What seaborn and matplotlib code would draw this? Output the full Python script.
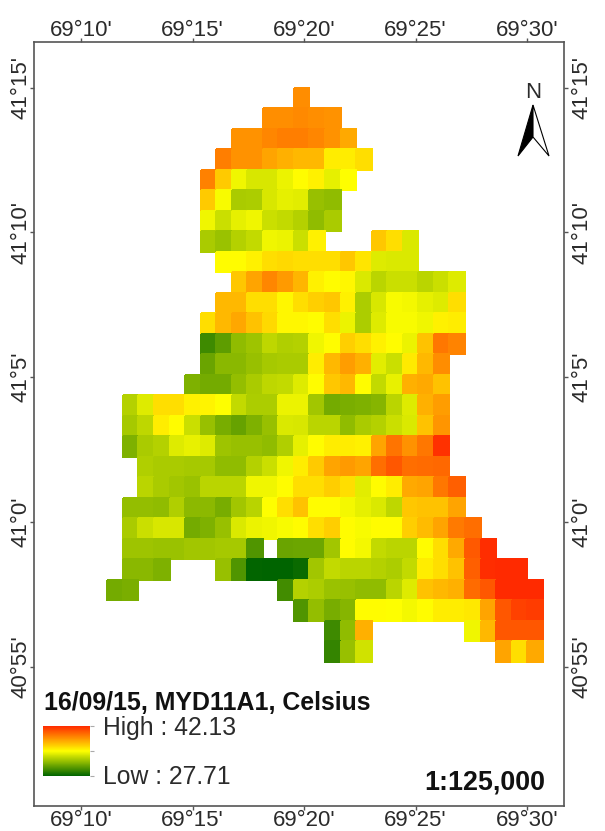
# Land surface temperature map, MYD11A1, 16/09/15

import numpy as np
import pandas as pd
import matplotlib
matplotlib.use('Agg')
import matplotlib.pyplot as plt
from matplotlib.colors import LinearSegmentedColormap
from matplotlib.patches import Polygon
import seaborn as sns

N_ROWS = 28
N_COLS = 28

# first column of each raster row
row_starts = [12, 10, 8, 7, 6, 6, 6, 6, 7, 8, 7, 6, 6, 6, 5, 1, 1, 1, 2, 2, 1, 1, 1, 1, 0, 12, 14, 14]

# temperature per row, None = no data
row_values = [
    [38.8],
    [38.7, 38.7, 38.9, 38.7, 38.6],
    [38.6, 38.6, 39.0, 39.3, 39.3, 39.0, 38.6, 37.8],
    [39.3, 38.6, 38.6, 38.0, 37.6, 37.3, 37.3, 35.5, 35.5, 36.0],
    [39.2, 36.7, 34.5, 33.8, 33.8, 34.4, 35.0, 35.4, 34.2, 34.9],
    [36.7, 34.7, 32.5, 32.6, 33.8, 34.2, 34.1, 32.0, 31.8],
    [34.5, 33.4, 34.2, 34.5, 33.4, 33.2, 32.8, 31.8, 32.5],
    [32.5, 32.1, 32.8, 33.2, 34.5, 34.4, 33.4, 35.4, None, None, None, 36.8, 36.0, 33.9],
    [35.0, 35.0, 35.4, 36.0, 36.2, 36.0, 36.0, 36.0, 36.8, 35.8, 34.0, 33.9, 33.9],
    [36.8, 38.0, 39.0, 38.3, 37.4, 35.4, 35.0, 35.2, 33.9, 33.0, 33.4, 33.4, 33.0, 33.4, 34.0],
    [37.3, 37.3, 36.0, 36.0, 35.2, 36.0, 36.5, 36.8, 35.4, 32.6, 33.8, 34.7, 34.6, 34.2, 34.0, 36.0],
    [36.0, 37.3, 37.9, 37.0, 36.2, 35.2, 35.2, 35.0, 36.0, 34.4, 32.6, 34.0, 34.7, 34.7, 34.5, 35.4, 35.5],
    [29.5, 30.4, 31.8, 32.2, 33.1, 32.7, 32.8, 34.5, 35.0, 36.5, 36.0, 35.4, 35.0, 34.4, 37.0, 39.5, 39.1],
    [30.7, 31.6, 31.6, 32.0, 32.4, 32.5, 32.5, 35.5, 37.3, 38.2, 37.6, 34.1, 33.4, 35.6, 37.3, 38.8],
    [31.3, 31.0, 31.0, 31.9, 32.5, 33.1, 33.2, 34.0, 35.0, 36.8, 37.3, 35.0, 33.2, 34.3, 37.6, 37.8, 37.0],
    [32.8, 34.0, 36.0, 36.0, 35.4, 35.3, 34.9, 33.2, 32.6, 32.6, 34.4, 34.4, 32.3, 31.0, 31.2, 31.3, 31.5, 33.0, 34.0, 37.6, 38.2],
    [32.4, 33.1, 35.5, 35.0, 33.4, 32.0, 31.1, 30.6, 31.3, 32.0, 33.9, 33.8, 33.0, 33.0, 31.8, 32.5, 32.8, 33.4, 33.9, 37.0, 38.5],
    [31.3, 32.5, 32.8, 34.0, 34.3, 34.0, 32.2, 32.0, 32.0, 31.8, 32.7, 34.2, 35.0, 35.5, 35.5, 35.4, 38.0, 39.6, 38.6, 39.5, 41.9],
    [32.7, 32.5, 32.5, 32.4, 32.4, 31.8, 31.8, 32.8, 33.4, 34.5, 35.5, 36.7, 38.0, 38.3, 38.0, 39.8, 40.6, 39.8, 39.9, 40.0],
    [33.0, 32.5, 32.3, 32.1, 33.0, 33.0, 33.0, 34.5, 34.5, 35.0, 36.0, 36.0, 36.6, 36.0, 34.1, 35.0, 35.5, 37.8, 38.0, 39.5, 40.3],
    [31.9, 31.9, 31.8, 32.7, 31.7, 31.7, 31.1, 32.3, 32.9, 34.9, 36.0, 37.0, 35.0, 35.0, 34.6, 34.2, 33.9, 33.1, 36.8, 37.0, 37.0, 38.0],
    [32.5, 33.4, 33.8, 33.8, 31.0, 31.3, 32.0, 33.9, 34.4, 34.5, 34.7, 35.0, 36.0, 36.6, 35.0, 34.7, 35.0, 35.0, 36.6, 37.2, 38.0, 39.4, 39.8],
    [32.2, 32.2, 32.1, 32.1, 32.3, 32.3, 32.4, 32.4, 30.0, None, 30.7, 30.8, 30.8, 32.3, 35.0, 34.6, 33.2, 33.0, 33.0, 35.0, 36.0, 37.8, 40.5, 42.0],
    [31.6, 31.6, 31.3, None, None, None, 32.0, 30.0, 27.8, 27.7, 27.7, 28.0, 32.3, 33.2, 33.0, 33.0, 32.8, 32.6, 33.2, 35.5, 36.0, 37.0, 40.3, 42.0, 42.1, 42.1],
    [31.0, 31.2, None, None, None, None, None, None, None, None, None, 29.6, 32.8, 32.6, 32.1, 32.0, 31.8, 31.8, 33.0, 34.0, 37.0, 37.3, 37.6, 39.9, 40.6, 42.1, 42.1, 42.1],
    [30.0, 31.9, 31.1, 31.5, 35.0, 35.0, 34.9, 34.6, 35.0, 35.5, 35.5, 35.7, 38.0, 40.6, 41.3, 41.5],
    [29.5, 31.8, 37.6, None, None, None, None, None, None, 34.5, 37.3, 40.6, 40.6, 40.6],
    [29.2, 32.0, 33.6, None, None, None, None, None, None, None, None, 38.0, 36.0, 37.8],
]

lon_ticks = [10, 15, 20, 25, 30]
lon_labels = ["69°10'", "69°15'", "69°20'", "69°25'", "69°30'"]
lat_ticks = [15, 10, 5, 0, -5]
lat_labels = ["41°15'", "41°10'", "41°5'", "41°0'", "40°55'"]

T_LOW = 27.71
T_HIGH = 42.13
T_MID = (T_LOW + T_HIGH) / 2

INK = '#2b2b2b'
FRAME = '#555555'

sns.set_theme(style='white')
plt.rcParams['font.family'] = ['Liberation Sans', 'DejaVu Sans']

grid = np.full((N_ROWS, N_COLS), np.nan)
for r, (start, vals) in enumerate(zip(row_starts, row_values)):
    for k, v in enumerate(vals):
        if v is not None:
            grid[r, start + k] = v
grid_df = pd.DataFrame(grid)

cmap = LinearSegmentedColormap.from_list('lst', ['#006400', '#ffff00', '#ff2a00'])

W, H = 605, 831
fig = plt.figure(figsize=(W / 100, H / 100), dpi=100)
ax = fig.add_axes([34 / W, 1 - 806 / H, 530 / W, 764 / H])
cax = fig.add_axes([43 / W, 1 - 776 / H, 47 / W, 50 / H])

sns.heatmap(grid_df, ax=ax, cmap=cmap, vmin=T_LOW, vmax=T_HIGH, center=T_MID,
            cbar=True, cbar_ax=cax, xticklabels=False, yticklabels=False,
            linewidths=0, rasterized=True)
ax.collections[0].set_edgecolor('face')
ax.collections[0].set_linewidth(0.2)

# raster position on the frame, in cell units
CELL_W, CELL_H = 15.55, 20.5
ax.set_xlim((34 - 107.3) / CELL_W, (564 - 107.3) / CELL_W)
ax.set_ylim((806 - 87.5) / CELL_H, (42 - 87.5) / CELL_H)

# one cell is about 0.7 minutes, first column starts at 69°11.18', first row at 41°15'
x_pos = [(m - 11.18) / 0.697 for m in lon_ticks]
y_pos = [(15 - m) / 0.708 for m in lat_ticks]

# top and right get their own axis, the label gaps differ from bottom and left
top = ax.secondary_xaxis('top')
right = ax.secondary_yaxis('right')
for axis, pos, labels, pad in [(ax.xaxis, x_pos, lon_labels, 0.2), (top.xaxis, x_pos, lon_labels, -2.6),
                               (ax.yaxis, y_pos, lat_labels, -1), (right.yaxis, y_pos, lat_labels, 2.6)]:
    axis.set_ticks(pos)
    axis.set_ticklabels(labels)
    axis.set_tick_params(length=3, width=1, color=FRAME, labelcolor=INK, labelsize=16, pad=pad)
ax.tick_params(bottom=True, left=True, labelbottom=True, labelleft=True)
top.spines['top'].set_visible(False)
right.spines['right'].set_visible(False)
for lab in ax.get_yticklabels() + right.get_yticklabels():
    lab.set_rotation(90)
    lab.set_va('center')
for side in ax.spines.values():
    side.set_visible(True)
    side.set_color(FRAME)
    side.set_linewidth(1.2)

# legend ramp
cbar = ax.collections[0].colorbar
cbar.set_ticks([T_LOW, T_MID, T_HIGH])
cbar.set_ticklabels([])
cbar.ax.tick_params(length=3, width=0.8, color='#aaaaaa', right=True)
cbar.outline.set_visible(False)


def px(x, y):
    return x / W, 1 - y / H


fig.text(*px(44, 703), '16/09/15, MYD11A1, Celsius', fontsize=17.9, fontweight='bold',
         color='#111111', va='center')
fig.text(*px(103, 728), f'High : {T_HIGH:.2f}', fontsize=17.8, color=INK, va='center')
fig.text(*px(103, 777), f'Low : {T_LOW:.2f}', fontsize=17.8, color=INK, va='center')
fig.text(*px(545, 782), '1:125,000', fontsize=19.4, fontweight='bold', color='#111111',
         va='center', ha='right')

# north arrow
fig.text(*px(533, 92), 'N', fontsize=16, color=INK, va='center', ha='center')
left_half = [px(533, 105), px(533, 137), px(518, 156)]
right_half = [px(533, 105), px(533, 137), px(549, 156)]
fig.add_artist(Polygon(left_half, closed=True, transform=fig.transFigure,
                       facecolor='black', edgecolor='black', linewidth=0.8))
fig.add_artist(Polygon(right_half, closed=True, transform=fig.transFigure,
                       facecolor='white', edgecolor='black', linewidth=0.8))

fig.savefig('out.png', dpi=100)
plt.close(fig)
